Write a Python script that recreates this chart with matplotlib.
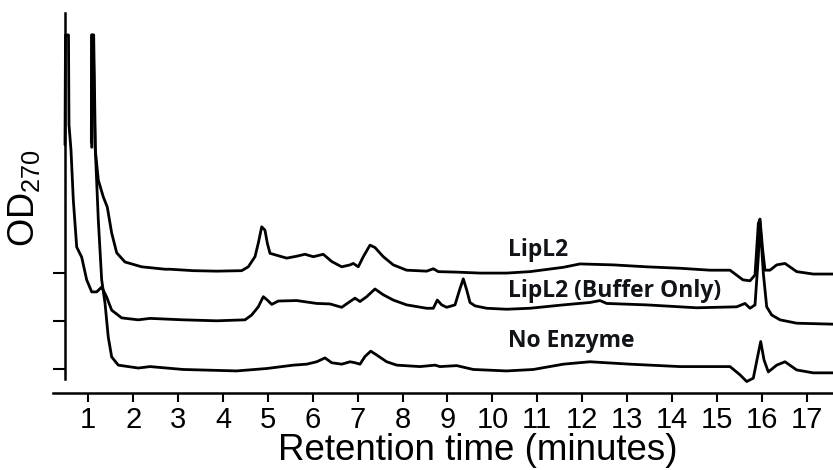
import matplotlib
matplotlib.use("Agg")
import matplotlib.pyplot as plt

plt.rcParams['font.family'] = ['Liberation Sans', 'DejaVu Sans']

# ---------------- data (retention time in minutes, OD270 signal in tick units) ----------------
lipl2_t = [1.068, 1.072, 1.110, 1.149, 1.223, 1.334, 1.423, 1.521, 1.633, 1.817, 2.189, 2.708, 2.820,
           3.339, 3.860, 4.416, 4.563, 4.713, 4.786, 4.862, 4.935, 4.987, 5.047, 5.158, 5.419,
           5.641, 5.826, 6.011, 6.234, 6.421, 6.644, 6.829, 6.902, 7.013, 7.125, 7.274, 7.385,
           7.570, 7.793, 8.091, 8.537, 8.684, 8.795, 9.205, 9.724, 10.318, 10.837, 11.579,
           11.951, 12.693, 13.437, 14.178, 14.846, 15.292, 15.579, 15.737, 15.849, 15.923,
           15.960, 16.020, 16.071, 16.183, 16.332, 16.517, 16.777, 17.147, 17.586]
lipl2_od = [2.70, 4.93, 4.93, 2.61, 1.92, 1.57, 1.36, 0.82, 0.41, 0.22, 0.12, 0.07, 0.07,
            0.04, 0.03, 0.04, 0.12, 0.33, 0.61, 0.95, 0.88, 0.61, 0.40, 0.37, 0.30,
            0.34, 0.38, 0.33, 0.38, 0.23, 0.12, 0.16, 0.19, 0.12, 0.33, 0.57, 0.52,
            0.33, 0.16, 0.05, 0.03, 0.08, 0.02, 0.01, -0.01, -0.01, 0.02, 0.11,
            0.18, 0.16, 0.12, 0.09, 0.05, 0.05, -0.15, -0.17, -0.05, 1.02,
            1.11, 0.47, 0.05, 0.05, 0.16, 0.19, 0.02, -0.03, -0.03]

buffer_t = [0.481, 0.492, 0.559, 0.570, 0.615, 0.666, 0.742, 0.853, 0.964, 1.076, 1.187, 1.298,
            1.410, 1.521, 1.744, 2.114, 2.374, 3.116, 3.860, 4.490, 4.639, 4.786, 4.898, 4.987,
            5.085, 5.232, 5.641, 6.087, 6.383, 6.644, 6.829, 6.940, 7.051, 7.200, 7.385, 7.570,
            7.793, 8.091, 8.537, 8.684, 8.773, 8.871, 8.982, 9.167, 9.279, 9.352, 9.428, 9.501,
            9.613, 9.873, 10.318, 10.837, 11.579, 12.173, 12.396, 12.546, 13.437, 14.550,
            15.441, 15.626, 15.737, 15.849, 15.923, 15.960, 16.034, 16.109, 16.221, 16.406,
            16.777, 17.586]
buffer_od = [3.65, 5.93, 5.93, 4.07, 3.54, 2.51, 1.53, 1.32, 0.85, 0.60, 0.60, 0.70,
             0.49, 0.22, 0.06, 0.02, 0.05, 0.02, 0.00, 0.02, 0.12, 0.29, 0.50, 0.43,
             0.34, 0.41, 0.42, 0.36, 0.35, 0.28, 0.40, 0.47, 0.40, 0.50, 0.66, 0.54,
             0.43, 0.33, 0.26, 0.26, 0.43, 0.33, 0.28, 0.33, 0.67, 0.87, 0.64, 0.38,
             0.31, 0.26, 0.24, 0.26, 0.33, 0.38, 0.42, 0.36, 0.33, 0.27,
             0.29, 0.36, 0.26, 0.33, 1.33, 2.06, 0.99, 0.29, 0.12, 0.02,
             -0.05, -0.07]

noenz_t = [1.075, 1.080, 1.120, 1.160, 1.223, 1.298, 1.372, 1.445, 1.521, 1.668, 2.114, 2.374, 3.116,
           4.305, 4.973, 5.566, 5.864, 6.087, 6.272, 6.421, 6.644, 6.829, 6.940, 7.051, 7.163,
           7.290, 7.423, 7.646, 7.869, 8.388, 8.722, 8.833, 9.205, 9.575, 10.318, 10.911,
           11.579, 12.173, 13.064, 14.178, 15.292, 15.514, 15.664, 15.811, 15.923, 15.976,
           16.049, 16.145, 16.332, 16.517, 16.777, 17.147, 17.586]
noenz_od = [4.60, 6.93, 6.93, 4.48, 3.09, 1.85, 1.37, 0.66, 0.25, 0.08, 0.02, 0.05, -0.01,
            -0.04, 0.01, 0.08, 0.10, 0.15, 0.23, 0.13, 0.10, 0.15, 0.13, 0.10, 0.26,
            0.37, 0.29, 0.15, 0.08, 0.05, 0.08, 0.05, 0.07, -0.01, -0.04, -0.01,
            0.10, 0.15, 0.10, 0.05, 0.05, -0.12, -0.26, -0.19, 0.33, 0.57,
            0.19, -0.06, 0.08, 0.15, -0.02, -0.08, -0.08]

trace_labels = ["LipL2", "LipL2 (Buffer Only)", "No Enzyme"]
x_ticks = list(range(1, 18))

# ---------------- layout / style ----------------
offsets = {"LipL2": 2.0, "LipL2 (Buffer Only)": 1.0, "No Enzyme": 0.0}
series = {"LipL2": (lipl2_t, lipl2_od),
          "LipL2 (Buffer Only)": (buffer_t, buffer_od),
          "No Enzyme": (noenz_t, noenz_od)}
label_pos = {"LipL2": (10.35, 2.35), "LipL2 (Buffer Only)": (10.35, 1.50), "No Enzyme": (10.35, 0.463)}

fig = plt.figure(figsize=(8.33, 4.70), dpi=100)
ax = fig.add_axes([53 / 833, 77 / 470, 780 / 833, 380 / 470])

for name in trace_labels:
    t, od = series[name]
    ax.plot(t, [v + offsets[name] for v in od], color='black', lw=2.0,
            solid_joinstyle='round', solid_capstyle='round')
    lx, ly = label_pos[name]
    ax.text(lx, ly, name, fontsize=16.5, fontweight='bold', family=['Open Sans', 'DejaVu Sans'],
            color='#101418', ha='left', va='baseline')

ax.set_xlim(0.214, 17.586)
ax.set_ylim(-0.498, 7.386)

ax.spines['top'].set_visible(False)
ax.spines['right'].set_visible(False)
ax.spines['left'].set_position(('data', 0.481))
ax.spines['left'].set_bounds(-0.207, 7.386)
ax.spines['left'].set_linewidth(1.8)
ax.spines['bottom'].set_linewidth(1.8)

ax.set_xticks(x_ticks)
ax.set_xticklabels([str(v) for v in x_ticks])
ax.tick_params(axis='x', direction='out', length=6.5, width=1.5, labelsize=21, pad=3)
ax.set_yticks([offsets[n] for n in trace_labels])
ax.set_yticklabels([])
ax.tick_params(axis='y', direction='out', length=8.6, width=1.5)

fig.text(478 / 833, 1 - 460 / 470, "Retention time (minutes)", fontsize=26.5,
         ha='center', va='baseline')
fig.text(24 / 833, 1 - 198 / 470, r"OD$\mathregular{_{270}}$", fontsize=26,
         rotation=90, ha='center', va='center')

fig.savefig("out.png", dpi=100)
